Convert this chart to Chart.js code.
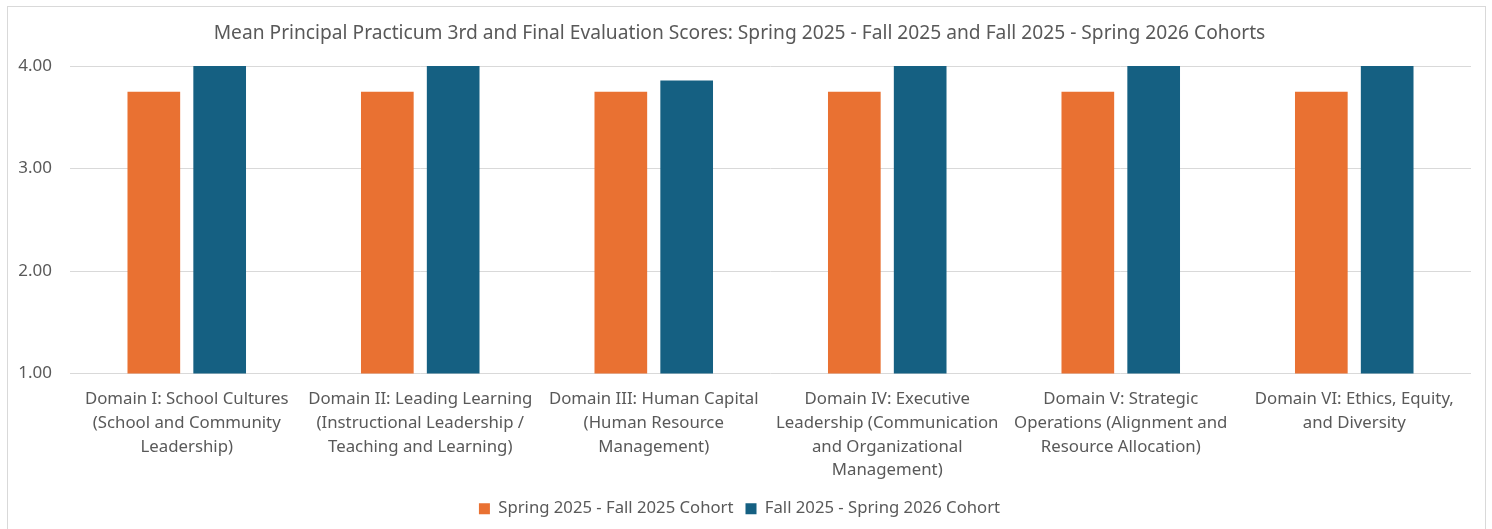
<!DOCTYPE html>
<html>
<head>
<meta charset="utf-8">
<script src="https://cdn.jsdelivr.net/npm/chart.js@4/dist/chart.umd.min.js"></script>
<style>
  html, body { margin: 0; padding: 0; background: #fff; overflow: hidden; }
  body { width: 1492px; height: 529px; position: relative; }
  .frame {
    position: absolute; left: 7px; top: 6px;
    width: 1477px; height: 540px;
    border: 1px solid #d9d9d9;
  }
  .frame canvas { display: block; }
</style>
</head>
<body>
<div class="frame">
  <canvas id="chart" width="1477" height="522"></canvas>
</div>
<script>
const chartTitle = "Mean Principal Practicum 3rd and Final Evaluation Scores: Spring 2025 - Fall 2025 and Fall 2025 - Spring 2026 Cohorts";

const domains = [
  ["Domain I: School Cultures", "(School and Community", "Leadership)"],
  ["Domain II: Leading Learning", "(Instructional Leadership /", "Teaching and Learning)"],
  ["Domain III: Human Capital", "(Human Resource", "Management)"],
  ["Domain IV: Executive", "Leadership (Communication", "and Organizational", "Management)"],
  ["Domain V: Strategic", "Operations (Alignment and", "Resource Allocation)"],
  ["Domain VI: Ethics, Equity,", "and Diversity"]
];

const seriesNames = ["Spring 2025 - Fall 2025 Cohort", "Fall 2025 - Spring 2026 Cohort"];
const spring2025Scores = [3.75, 3.75, 3.75, 3.75, 3.75, 3.75];
const fall2025Scores = [4.00, 4.00, 3.86, 4.00, 4.00, 4.00];

const yTicks = [1, 2, 3, 4];

const textColor = "#595959";
const gridColor = "#d9d9d9";
const fontFamily = "'Noto Sans', 'Open Sans', sans-serif";

const ctx = document.getElementById("chart").getContext("2d");
new Chart(ctx, {
  type: "bar",
  data: {
    labels: domains,
    datasets: [
      {
        label: seriesNames[0],
        data: spring2025Scores,
        backgroundColor: "#E97132",
      },
      {
        label: seriesNames[1],
        data: fall2025Scores,
        backgroundColor: "#156082",
      },
    ],
  },
  options: {
    responsive: false,
    animation: false,
    layout: { padding: { top: 15, right: 14, bottom: 2, left: 0 } },
    datasets: {
      bar: { categoryPercentage: 0.564, barPercentage: 0.8 },
    },
    plugins: {
      title: {
        display: true,
        text: chartTitle,
        color: textColor,
        font: { family: fontFamily, size: 19.2, weight: "normal" },
        padding: { top: 0, bottom: 21 },
      },
      legend: {
        position: "bottom",
        labels: {
          color: textColor,
          font: { family: fontFamily, size: 16.7 },
          boxWidth: 11,
          boxHeight: 11,
          padding: 12,
        },
      },
      tooltip: { enabled: false },
    },
    scales: {
      x: {
        grid: { display: false },
        border: { display: false },
        ticks: {
          color: textColor,
          font: { family: fontFamily, size: 16.8, lineHeight: 1.41 },
          maxRotation: 0,
          autoSkip: false,
          padding: 6,
        },
      },
      y: {
        min: 1,
        max: 4,
        afterFit: (scale) => { scale.width = 62; },
        afterBuildTicks: (scale) => { scale.ticks = yTicks.map((v) => ({ value: v })); },
        grid: { color: gridColor, drawTicks: false },
        border: { display: false },
        ticks: {
          color: textColor,
          font: { family: fontFamily, size: 17 },
          padding: 18,
          callback: (v) => Number(v).toFixed(2),
        },
      },
    },
  },
});
</script>
</body>
</html>
